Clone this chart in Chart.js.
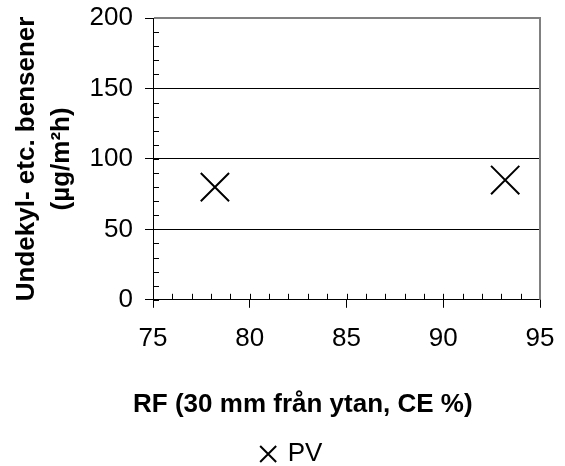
<!doctype html>
<html lang="sv">
<head>
    <meta charset="utf-8">
    <title>Undekyl- etc. bensener</title>
    <script src="https://cdn.jsdelivr.net/npm/chart.js"></script>
    <style>
        body { margin: 0; background: #fff; }
        #wrap { width: 565px; height: 466px; }
    </style>
</head>
<body>
    <div id="wrap"><canvas id="myChart" width="565" height="466"></canvas></div>
    <script>
        // data
        const seriesName = 'PV';
        const rf = [78.2, 93.2];          // RF (30 mm från ytan, CE %)
        const emission = [80, 85];        // µg/m²h
        const xTicks = [75, 80, 85, 90, 95];
        const yTicks = [0, 50, 100, 150, 200];

        // short inside ticks every 1 % RF and every 10 µg/m²h, plus grey frame top/right
        const minorTicks = {
            id: 'minorTicks',
            afterDraw(chart) {
                const ctx = chart.ctx;
                const xs = chart.scales.x, ys = chart.scales.y;
                const area = chart.chartArea;
                ctx.save();
                ctx.strokeStyle = '#000';
                ctx.lineWidth = 1;
                ctx.beginPath();
                for (let v = xs.min; v <= xs.max; v += 1) {
                    const px = Math.round(xs.getPixelForValue(v)) + 0.5;
                    ctx.moveTo(px, area.bottom);
                    ctx.lineTo(px, area.bottom - 6);
                }
                for (let v = ys.min; v <= ys.max; v += 10) {
                    const py = Math.round(ys.getPixelForValue(v)) + 0.5;
                    ctx.moveTo(area.left, py);
                    ctx.lineTo(area.left + 6, py);
                }
                ctx.stroke();
                ctx.strokeStyle = '#808080';
                ctx.lineWidth = 2;
                ctx.beginPath();
                ctx.moveTo(area.left + 1, area.top);
                ctx.lineTo(area.right, area.top);
                ctx.lineTo(area.right, area.bottom);
                ctx.stroke();
                ctx.restore();
            }
        };

        Chart.defaults.font.family = '"Liberation Sans", Arial, sans-serif';
        Chart.defaults.color = '#000';

        const myChart = new Chart(document.getElementById('myChart'), {
            type: 'scatter',
            data: {
                datasets: [{
                    label: seriesName,
                    data: rf.map((x, i) => ({ x: x, y: emission[i] })),
                    pointStyle: 'crossRot',
                    pointRadius: 20,
                    pointHoverRadius: 20,
                    borderColor: '#000',
                    backgroundColor: '#000',
                    borderWidth: 2,
                    pointBorderWidth: 2
                }]
            },
            options: {
                responsive: false,
                animation: false,
                devicePixelRatio: 1,
                layout: { autoPadding: false, padding: { top: 0, right: 3, left: 22, bottom: -11 } },
                plugins: {
                    tooltip: { enabled: false },
                    // x axis title sits under the axis, centred on the whole figure
                    title: {
                        display: true,
                        position: 'bottom',
                        weight: 500,
                        text: '   RF (30 mm från ytan, CE %)',
                        font: { size: 26, weight: 'bold', lineHeight: 1.2 },
                        padding: { top: 0, bottom: 21 },
                        color: '#000'
                    },
                    legend: {
                        position: 'bottom',
                        labels: {
                            usePointStyle: true,
                            boxWidth: 13,
                            boxHeight: 16,
                            padding: 0,
                            font: { size: 26 },
                            color: '#000'
                        }
                    }
                },
                scales: {
                    x: {
                        type: 'linear',
                        min: xTicks[0],
                        max: xTicks[xTicks.length - 1],
                        afterBuildTicks: (s) => { s.ticks = xTicks.map(v => ({ value: v })); },
                        afterFit: (s) => { s.height = 89; s.paddingLeft = 0; s.paddingRight = 25; },
                        ticks: { font: { size: 26 }, padding: 15, color: '#000' },
                        grid: { drawOnChartArea: false, drawTicks: true, tickLength: 8, color: '#000' },
                        border: { color: '#000', width: 1 }
                    },
                    y: {
                        min: yTicks[0],
                        max: yTicks[yTicks.length - 1],
                        afterBuildTicks: (s) => { s.ticks = yTicks.map(v => ({ value: v })); },
                        afterFit: (s) => { s.width = 131; s.paddingTop = 18; s.paddingBottom = 0; },
                        ticks: { font: { size: 26 }, padding: 12, color: '#000' },
                        grid: { color: '#000', tickLength: 8 },
                        border: { color: '#000', width: 1 },
                        title: {
                            display: true,
                            text: ['Undekyl- etc. bensener', '(µg/m²h)'],
                            font: { size: 26, weight: 'bold', lineHeight: 1.35 },
                            padding: { top: -12.5, bottom: 0 },
                            color: '#000'
                        }
                    }
                }
            },
            plugins: [minorTicks]
        });
    </script>
</body>
</html>
